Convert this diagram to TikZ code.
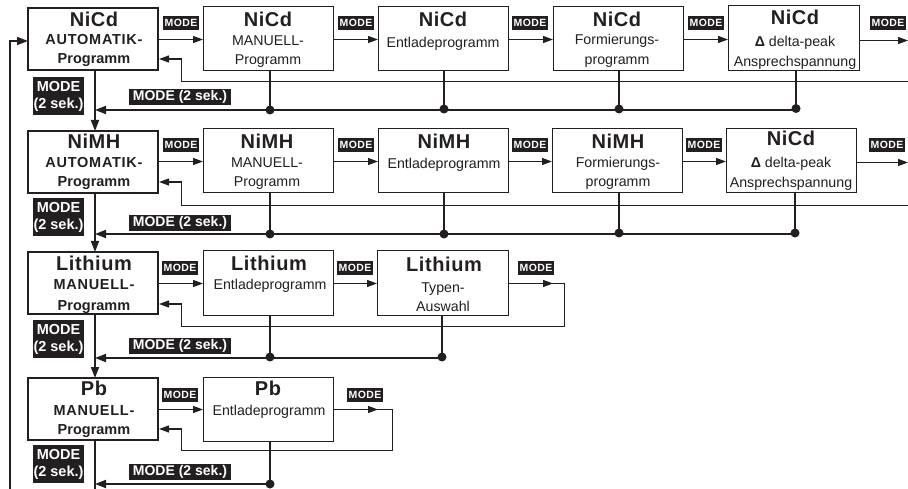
\documentclass[tikz,border=0pt]{standalone}
\usepackage{fontspec}
\setmainfont{Liberation Sans}
\usetikzlibrary{arrows.meta}
\definecolor{ink}{HTML}{231F20}
\tikzset{
 x=1pt,y=-1pt,
 every node/.style={text=ink,inner sep=0,outer sep=0},
 tip/.style={-{Triangle[length=10pt,width=7pt]}},
 bigtip/.style={-{Triangle[length=11pt,width=8pt]}},
 prog/.style={draw=ink,line width=1pt,fill=white,minimum width=130pt,anchor=north west,align=center},
 autobox/.style={draw=ink,line width=1.9pt,fill=white,minimum width=130pt,minimum height=62pt,anchor=north west},
 flow/.style={draw=ink,line width=1.2pt},
 bus/.style={draw=ink,line width=1.8pt},
 dot/.style={circle,fill=ink,minimum size=9pt},
 mode/.style={fill=ink,text=white,font=\bfseries\fontsize{10.5}{11}\selectfont\addfontfeature{LetterSpace=4},minimum width=36pt,minimum height=14pt,anchor=north west},
 modelong/.style={fill=ink,text=white,font=\bfseries\fontsize{14}{15}\selectfont,minimum width=102pt,minimum height=16pt,anchor=north west},
 modetwo/.style={fill=ink,text=white,font=\bfseries\fontsize{14.5}{17}\selectfont,align=center,minimum width=51pt,minimum height=38pt,anchor=north west},
}
\newcommand{\tl}[1]{{\bfseries\fontsize{20}{22}\selectfont\addfontfeature{LetterSpace=3}#1}}
\newcommand{\sbb}[1]{{\bfseries\fontsize{14.5}{17}\selectfont #1}}
\newcommand{\sbc}[1]{{\bfseries\fontsize{14.5}{17}\selectfont\addfontfeature{LetterSpace=5}#1}}
\newcommand{\sbn}[1]{{\fontsize{14.2}{17}\selectfont #1}}
\newcommand{\putb}[3]{\node[anchor=base] at (#1,#2) {#3};}
\begin{document}
\begin{tikzpicture}
\useasboundingbox (0,0) rectangle (908,489);
% boxes
\node[autobox] (a1) at (28,8) {};
\node[prog,minimum height=64pt] (b1) at (203,7) {};
\node[prog,minimum height=64pt] (c1) at (378,7) {};
\node[prog,minimum height=64pt] (d1) at (553,7) {};
\node[prog,minimum height=65pt,minimum width=131pt] (e1) at (728,6) {};
\node[autobox] (a2) at (28,131) {};
\node[prog,minimum height=64pt] (b2) at (203,129) {};
\node[prog,minimum height=64pt] (c2) at (378,129) {};
\node[prog,minimum height=64pt] (d2) at (552,129) {};
\node[prog,minimum height=64pt] (e2) at (726,129) {};
\node[autobox] (a3) at (28,252) {};
\node[prog,minimum height=64pt] (b3) at (203,251) {};
\node[prog,minimum height=64pt,minimum width=131pt] (c3) at (377,251) {};
\node[autobox] (a4) at (28,378) {};
\node[prog,minimum height=64pt] (b4) at (203,377) {};
% text row 1
\putb{94}{27}{\tl{NiCd}}\putb{94}{45}{\sbc{AUTOMATIK-}}\putb{94}{64}{\sbb{Programm}}
\putb{268}{27}{\tl{NiCd}}\putb{268}{46}{\sbn{MANUELL-}}\putb{268}{65}{\sbn{Programm}}
\putb{443}{27}{\tl{NiCd}}\putb{443}{48}{\sbn{Entladeprogramm}}
\putb{617}{27}{\tl{NiCd}}\putb{617}{45}{\sbn{Formierungs-}}\putb{617}{65}{\sbn{programm}}
\putb{795}{25}{\tl{NiCd}}\putb{795}{47}{\sbn{\textbf{Δ} delta-peak}}\putb{795}{67}{\sbn{Ansprechspannung}}
% text row 2
\putb{94}{149}{\tl{NiMH}}\putb{94}{168}{\sbc{AUTOMATIK-}}\putb{94}{187}{\sbb{Programm}}
\putb{267}{149}{\tl{NiMH}}\putb{267}{168}{\sbn{MANUELL-}}\putb{267}{187}{\sbn{Programm}}
\putb{444}{149}{\tl{NiMH}}\putb{444}{169}{\sbn{Entladeprogramm}}
\putb{618}{149}{\tl{NiMH}}\putb{618}{168}{\sbn{Formierungs-}}\putb{618}{187}{\sbn{programm}}
\putb{791}{146}{\tl{NiCd}}\putb{791}{168}{\sbn{\textbf{Δ} delta-peak}}\putb{791}{187.5}{\sbn{Ansprechspannung}}
% text row 3
\putb{94}{270}{\tl{Lithium}}\putb{94}{290}{\sbc{MANUELL-}}\putb{94}{310}{\sbb{Programm}}
\putb{269}{270}{\tl{Lithium}}\putb{270}{290}{\sbn{Entladeprogramm}}
\putb{444}{272}{\tl{Lithium}}\putb{443}{292}{\sbn{Typen-}}\putb{443}{311}{\sbn{Auswahl}}
% text row 4
\putb{94}{395}{\tl{Pb}}\putb{94}{415}{\sbc{MANUELL-}}\putb{94}{434}{\sbb{Programm}}
\putb{268}{395}{\tl{Pb}}\putb{269}{415}{\sbn{Entladeprogramm}}
% row arrows
\coordinate (y1) at (0,39.5);\coordinate (y2) at (0,161.5);\coordinate (y3) at (0,283.5);\coordinate (y4) at (0,409.5);
\foreach \u/\v/\r in {a1/b1/y1,b1/c1/y1,c1/d1/y1,d1/e1/y1,a2/b2/y2,b2/c2/y2,c2/d2/y2,d2/e2/y2,a3/b3/y3,b3/c3/y3,a4/b4/y4}
  \draw[flow,tip] (\u.east |- \r) -- (\v.west |- \r);
\coordinate (x1) at (908,40.5);
\coordinate (x2) at (908,162.5);
\draw[flow,tip] (e1.east |- x1) -- (x1);
\draw[flow,tip] (e2.east |- x2) -- (x2);
% return lines
\coordinate (ret1) at (908,81.5);
\coordinate (ret2) at (908,205.5);
\coordinate (ta1) at (159,59);
\coordinate (ta2) at (159,182);
\coordinate (ta3) at (159,304);
\coordinate (ta4) at (159,429);
\draw[flow,tip] (ret1) -- (181.5,81.5) -- (181.5,59) -- (ta1);
\draw[flow,tip] (ret2) -- (181.5,205.5) -- (181.5,182) -- (ta2);
\coordinate (s3) at (553,283.5);
\draw[flow,tip] (564.5,283.5) -- (564.5,326.5) -- (181.5,326.5) -- (181.5,304) -- (ta3);
\draw[flow] (c3.east |- s3) -- (564.5,283.5);
\draw[flow,tip] (c3.east |- s3) -- (s3);
\coordinate (s4) at (378,409.5);
\draw[flow,tip] (392.5,409.5) -- (392.5,450.5) -- (181.5,450.5) -- (181.5,429) -- (ta4);
\draw[flow] (b4.east |- s4) -- (392.5,409.5);
\draw[flow,tip] (b4.east |- s4) -- (s4);
% buses
\coordinate (bb1) at (95,110);\coordinate (bb2) at (95,234);\coordinate (bb3) at (95,358);\coordinate (bb4) at (95,484);
\node[dot] (p1b) at (270,110) {};\node[dot] (p1c) at (444,109) {};\node[dot] (p1d) at (619,109) {};\node[dot] (p1e) at (796,108.5) {};
\node[dot] (p2b) at (270,234) {};\node[dot] (p2c) at (444,234) {};\node[dot] (p2d) at (619,233) {};\node[dot] (p2e) at (795,233) {};
\node[dot] (p3b) at (270,357) {};\node[dot] (p3c) at (442,357) {};
\node[dot] (p4b) at (270,484) {};
\draw[bus,bigtip] (p1e.center |- bb1) -- (bb1);
\draw[bus,bigtip] (p2e.center |- bb2) -- (bb2);
\draw[bus,bigtip] (p3c.center |- bb3) -- (bb3);
\draw[bus,bigtip] (p4b.center |- bb4) -- (bb4);
\foreach \u/\v in {b1/p1b,c1/p1c,d1/p1d,e1/p1e,b2/p2b,c2/p2c,d2/p2d,e2/p2e,b3/p3b,c3/p3c,b4/p4b}
  \draw[bus] (\v.center |- \u.south) -- (\v.center);
% vertical
\coordinate (vx) at (95,0);
\draw[bus,bigtip] (vx |- a1.south) -- (vx |- a2.north);
\draw[bus,bigtip] (vx |- a2.south) -- (vx |- a3.north);
\draw[bus,bigtip] (vx |- a3.south) -- (vx |- a4.north);
\coordinate (dn) at (95,489);
\draw[bus] (vx |- a4.south) -- (dn);
\coordinate (lft) at (10,490);
\coordinate (lfa) at (28,41);
\draw[bus,bigtip] (lft) -- (10,41) -- (lfa);
% MODE small labels
\foreach \i/\x/\y in {1/163/16,2/338/16,3/512/16,4/688/16,5/870/16,6/163/138,7/338/138,8/512/138,9/686/138,10/869/138,11/162/261,12/337/261,13/518/261,14/162/388,15/347/388}
  \node[mode] (m\i) at (\x,\y) {MODE};
% two-line
\node[modetwo] (t1) at (33,77) {MODE\\(2 sek.)};
\node[modetwo] (t2) at (33,198) {MODE\\(2 sek.)};
\node[modetwo] (t3) at (33,320) {MODE\\(2 sek.)};
\node[modetwo] (t4) at (33,445) {MODE\\(2 sek.)};
% long
\node[modelong] (w1) at (129,89) {MODE (2 sek.)};
\node[modelong] (w2) at (129,215) {MODE (2 sek.)};
\node[modelong] (w3) at (129,338) {MODE (2 sek.)};
\node[modelong] (w4) at (129,463.5) {MODE (2 sek.)};
\end{tikzpicture}
\end{document}
